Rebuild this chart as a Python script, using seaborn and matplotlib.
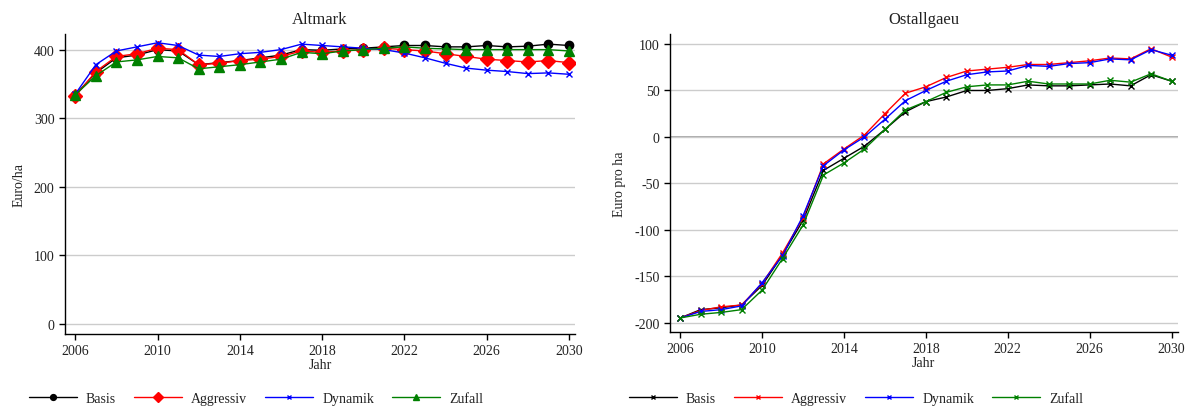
import numpy as np
import pandas as pd
import seaborn as sns
import matplotlib.pyplot as plt

years = list(range(2006, 2031))
series = ["Basis", "Aggressiv", "Dynamik", "Zufall"]

# Altmark, Euro/ha
alt_basis = [334, 366, 388, 392, 400, 398, 378, 381, 384, 388, 392, 400, 399, 401, 402,
             404, 406, 406, 404, 404, 406, 404, 405, 408, 406]
alt_aggressiv = [332, 368, 390, 394, 402, 400, 378, 380, 384, 386, 390, 398, 396, 398, 400,
                 402, 400, 398, 394, 390, 386, 384, 382, 384, 381]
alt_dynamik = [335, 378, 398, 404, 410, 406, 392, 390, 394, 396, 400, 408, 406, 404, 402,
               400, 395, 388, 380, 373, 370, 368, 365, 366, 364]
alt_zufall = [334, 362, 382, 385, 390, 388, 372, 375, 378, 382, 386, 396, 394, 398, 400,
              402, 404, 402, 401, 400, 400, 400, 400, 400, 398]

# Ostallgaeu, Euro pro ha
ost_basis = [-195, -186, -184, -181, -160, -127, -90, -36, -23, -10, 8, 27, 38, 43, 50,
             50, 52, 56, 55, 55, 56, 57, 55, 67, 60]
ost_aggressiv = [-195, -187, -183, -181, -158, -125, -87, -29, -13, 2, 25, 47, 54, 64, 71,
                 73, 75, 78, 78, 80, 82, 85, 84, 95, 86]
ost_dynamik = [-195, -188, -186, -182, -157, -128, -85, -31, -14, 0, 19, 39, 50, 60, 67,
               70, 71, 77, 76, 79, 80, 84, 83, 94, 88]
ost_zufall = [-195, -191, -189, -186, -165, -131, -95, -41, -28, -13, 8, 29, 38, 48, 54,
              56, 56, 60, 57, 57, 57, 61, 59, 68, 60]

colors = {"Basis": "black", "Aggressiv": "red", "Dynamik": "blue", "Zufall": "green"}
alt_markers = {"Basis": ("o", 6), "Aggressiv": ("D", 7), "Dynamik": ("x", 5), "Zufall": ("^", 7)}

sns.set_style("white")
plt.rcParams["font.family"] = ["Liberation Serif", "DejaVu Serif"]
plt.rcParams["axes.unicode_minus"] = False
txt = "#222222"

fig = plt.figure(figsize=(11.92, 4.10), dpi=100)
ax1 = fig.add_axes([0.0545, 0.183, 0.428, 0.732])
ax2 = fig.add_axes([0.562, 0.188, 0.426, 0.727])


def style_ax(ax, title, ylabel, yticks, ylim):
    ax.set_xlim(2005.5, 2030.3)
    ax.set_ylim(*ylim)
    ax.set_xticks(range(2006, 2031, 4))
    ax.set_yticks(yticks)
    ax.yaxis.grid(True, color="#cccccc", linewidth=1)
    ax.set_axisbelow(True)
    for s in ["top", "right"]:
        ax.spines[s].set_visible(False)
    for s in ["left", "bottom"]:
        ax.spines[s].set_color("black")
        ax.spines[s].set_linewidth(1)
    ax.tick_params(axis="both", direction="out", length=4, width=1, color="black",
                   labelsize=10, labelcolor=txt, left=True, bottom=True)
    ax.set_title(title, fontsize=12, color=txt, pad=8)
    ax.set_ylabel(ylabel, fontsize=10, color=txt, labelpad=6)
    ax.set_xlabel("Jahr", fontsize=10, color=txt, labelpad=0.5)


for name, vals in zip(series, [alt_basis, alt_aggressiv, alt_dynamik, alt_zufall]):
    m, ms = alt_markers[name]
    sns.lineplot(x=years, y=vals, color=colors[name], marker=m, markersize=ms,
                 markeredgecolor=colors[name], markeredgewidth=1, linewidth=1,
                 label=name, ax=ax1)
style_ax(ax1, "Altmark", "Euro/ha", [0, 100, 200, 300, 400], (-15, 423))

for name, vals in zip(series, [ost_basis, ost_aggressiv, ost_dynamik, ost_zufall]):
    sns.lineplot(x=years, y=vals, color=colors[name], marker="x", markersize=5,
                 markeredgecolor=colors[name], markeredgewidth=1, linewidth=1,
                 label=name, ax=ax2)
style_ax(ax2, "Ostallgaeu", "Euro pro ha", [-200, -150, -100, -50, 0, 50, 100], (-210, 111))
ax2.axhline(0, color="#999999", linewidth=1.2, zorder=0.5)

for ax, x0, y0 in ((ax1, -0.095, -0.215), (ax2, -0.105, -0.222)):
    h, l = ax.get_legend_handles_labels()
    ax.legend(h, l, loc="center left", bbox_to_anchor=(x0, y0), ncol=4,
              frameon=False, fontsize=10, handlelength=3.45, handletextpad=0.65,
              columnspacing=1.3, labelcolor=txt, markerscale=0.7)

fig.savefig("out.png", dpi=100)
